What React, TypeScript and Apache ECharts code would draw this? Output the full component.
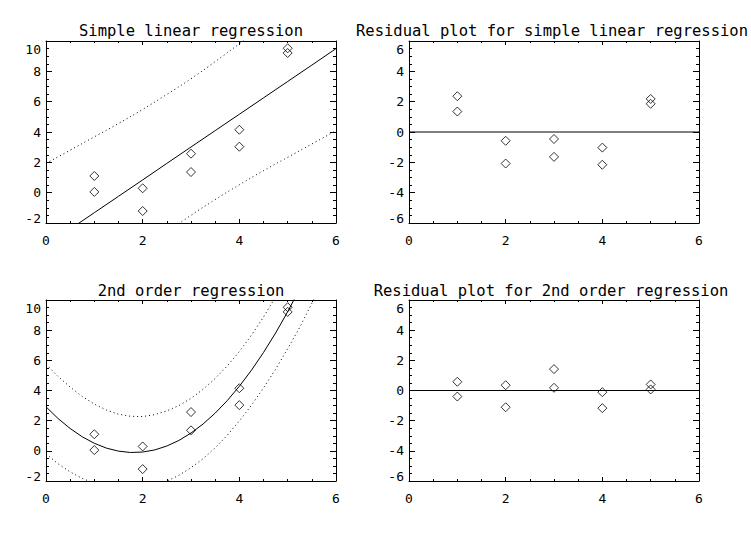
import React, { useEffect, useRef } from "react";
import * as echarts from "echarts";

// ---------- data ----------
const xObs = [1, 1, 2, 2, 3, 3, 4, 4, 5, 5];
const yObs = [1.1, 0.05, 0.29, -1.21, 2.57, 1.36, 4.15, 3.03, 9.52, 9.21];
const residLinear = [2.36, 1.35, -0.58, -2.08, -0.46, -1.64, -1.03, -2.16, 2.18, 1.86];
const residQuad = [0.58, -0.4, 0.35, -1.11, 1.42, 0.18, -0.11, -1.17, 0.4, 0.07];

const curveX = [0, 0.5, 1, 1.5, 2, 2.5, 3, 3.5, 4, 4.5, 5, 5.5, 6];
const linFit = [-3.48, -2.4, -1.32, -0.24, 0.84, 1.93, 3.01, 4.09, 5.17, 6.25, 7.33, 8.41, 9.5];
const linUpper = [1.93, 2.8, 3.68, 4.56, 5.49, 6.48, 7.51, 8.64, 9.82, 11.05, 12.33, 13.6, 14.91];
const linLower = [-8.89, -7.6, -6.32, -5.04, -3.81, -2.62, -1.49, -0.46, 0.52, 1.45, 2.33, 3.21, 4.09];

const curveXFine = [
  0, 0.25, 0.5, 0.75, 1, 1.25, 1.5, 1.75, 2, 2.25, 2.5, 2.75, 3,
  3.25, 3.5, 3.75, 4, 4.25, 4.5, 4.75, 5, 5.25, 5.5, 5.75, 6,
];
const quadFit = [
  2.92, 2.14, 1.48, 0.93, 0.5, 0.18, -0.02, -0.11, -0.08, 0.06, 0.32, 0.69, 1.18,
  1.78, 2.5, 3.33, 4.28, 5.34, 6.52, 7.81, 9.22, 10.74, 12.38, 14.13, 16.0,
];
const quadUpper = [
  5.75, 4.93, 4.23, 3.6, 3.1, 2.7, 2.43, 2.29, 2.27, 2.4, 2.65, 3.0, 3.48,
  4.08, 4.8, 5.63, 6.58, 7.66, 8.87, 10.21, 11.67, 13.25, 14.98, 16.8, 18.8,
];
const quadLower = [
  -0.2, -0.86, -1.4, -1.83, -2.15, -2.37, -2.47, -2.51, -2.43, -2.28, -2.01, -1.62, -1.12,
  -0.52, 0.2, 1.03, 1.98, 3.02, 4.17, 5.41, 6.77, 8.19, 9.78, 11.5, 13.2,
];

const zeroX = [0, 6];
const zeroY = [0, 0];

const xTicks = [0, 2, 4, 6];
const yTicksFit = [-2, 0, 2, 4, 6, 8, 10];
const yTicksResid = [-6, -4, -2, 0, 2, 4, 6];

const titles = [
  "Simple linear regression",
  "Residual plot for simple linear regression",
  "2nd order regression",
  "Residual plot for 2nd order regression",
];

// ---------- layout / styles ----------
const FONT = '"DejaVu Sans Mono", monospace';
const grids = [
  { left: 46, top: 41, width: 290, height: 182 },
  { left: 409, top: 41, width: 290, height: 182 },
  { left: 46, top: 300, width: 290, height: 181 },
  { left: 409, top: 300, width: 290, height: 181 },
];
const titleX = [191, 552, 191, 551];
const titleY = [31, 31, 291, 291];

const pairs = (xs: number[], ys: number[]) => xs.map((x, i) => [x, ys[i]]);

function buildAxes(gi: number, yTicks: number[]) {
  const yMin = yTicks[0];
  const yMax = yTicks[yTicks.length - 1];
  const black = { color: "#000", width: 1 };
  const common = {
    type: "value",
    gridIndex: gi,
    splitLine: { show: false },
    axisLine: { show: true, onZero: false, lineStyle: black },
  };
  const xAx = (position: string, labels: boolean) => ({
    ...common,
    position,
    min: xTicks[0],
    max: xTicks[xTicks.length - 1],
    interval: 2,
    axisTick: { show: true, inside: true, length: 4, lineStyle: black },
    minorTick: { show: true, splitNumber: 4, length: 2, lineStyle: black },
    axisLabel: {
      show: labels,
      color: "#000",
      fontFamily: FONT,
      fontSize: 13,
      margin: 11,
      formatter: (v: number) => String(v),
    },
  });
  const yAx = (position: string, labels: boolean) => ({
    ...common,
    position,
    min: yMin,
    max: yMax,
    interval: 2,
    axisTick: { show: true, inside: true, length: 6, lineStyle: black },
    minorTick: { show: true, splitNumber: 4, length: 3, lineStyle: black },
    axisLabel: {
      show: labels,
      color: "#000",
      fontFamily: FONT,
      fontSize: 13,
      margin: 5,
      formatter: (v: number) =>
        v === yMax ? `{t|${v}}` : v === yMin ? `{b|${v}}` : `${v}`,
      rich: {
        t: { padding: [17, 0, 0, 0], fontFamily: FONT, fontSize: 13, color: "#000" },
        b: { padding: [0, 0, 9, 0], fontFamily: FONT, fontSize: 13, color: "#000" },
      },
    },
  });
  return {
    x: [xAx("bottom", true), xAx("top", false)],
    y: [yAx("left", true), yAx("right", false)],
  };
}

export default function App() {
  const ref = useRef<HTMLDivElement>(null);
  useEffect(() => {
    if (!ref.current) return;
    const chart = echarts.init(ref.current, null, { renderer: "svg" });
    const yTickSets = [yTicksFit, yTicksResid, yTicksFit, yTicksResid];
    const xAxis: any[] = [];
    const yAxis: any[] = [];
    yTickSets.forEach((t, gi) => {
      const a = buildAxes(gi, t);
      xAxis.push(...a.x);
      yAxis.push(...a.y);
    });

    const scatter = (gi: number, ys: number[]) => ({
      type: "scatter",
      xAxisIndex: gi * 2,
      yAxisIndex: gi * 2,
      data: pairs(xObs, ys),
      symbol: "diamond",
      symbolSize: 9,
      itemStyle: { color: "rgba(0,0,0,0)", borderColor: "#000", borderWidth: 1 },
      silent: true,
    });
    const line = (gi: number, xs: number[], ys: number[], dotted: boolean, smooth: boolean) => ({
      type: "line",
      xAxisIndex: gi * 2,
      yAxisIndex: gi * 2,
      data: pairs(xs, ys),
      showSymbol: false,
      symbol: "none",
      smooth,
      clip: true,
      silent: true,
      lineStyle: { color: "#000", width: 1, type: dotted ? [1, 3] : "solid" },
    });

    chart.setOption({
      animation: false,
      backgroundColor: "#fff",
      grid: grids.map((g) => ({ ...g, containLabel: false })),
      xAxis,
      yAxis,
      graphic: titles.map((t, i) => ({
        type: "text",
        x: titleX[i],
        y: titleY[i],
        style: {
          text: t,
          fontFamily: FONT,
          fontSize: 15.5,
          fill: "#000",
          textAlign: "center",
          textVerticalAlign: "middle",
        },
      })),
      series: [
        scatter(0, yObs),
        line(0, curveX, linFit, false, false),
        line(0, curveX, linUpper, true, true),
        line(0, curveX, linLower, true, true),
        scatter(1, residLinear),
        line(1, zeroX, zeroY, false, false),
        scatter(2, yObs),
        line(2, curveXFine, quadFit, false, false),
        line(2, curveXFine, quadUpper, true, false),
        line(2, curveXFine, quadLower, true, false),
        scatter(3, residQuad),
        line(3, zeroX, zeroY, false, false),
      ],
    });
    return () => chart.dispose();
  }, []);
  return (
    <div
      ref={ref}
      style={{ position: "fixed", left: 0, top: 0, width: 751, height: 535, background: "#fff" }}
    />
  );
}
